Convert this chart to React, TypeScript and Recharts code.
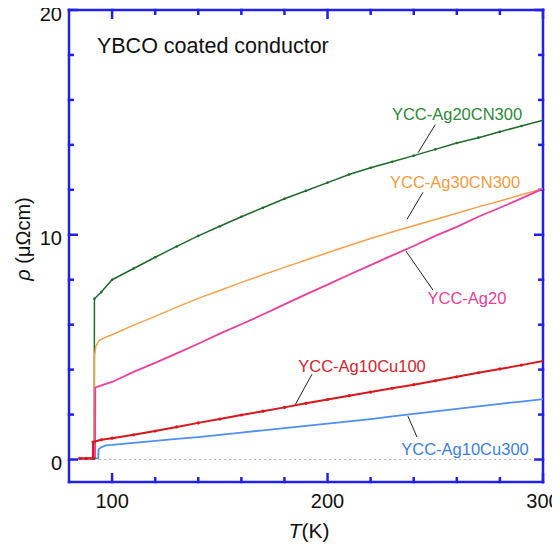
import React from 'react';
import { LineChart, Line, XAxis, YAxis, ReferenceLine, ReferenceDot, Label } from 'recharts';

// Normal-state temperatures (K)
const temps = [100, 110, 120, 130, 140, 150, 160, 170, 180, 190, 200, 210, 220, 230, 240, 250, 260, 270, 280, 290, 300];
// Resistivity (μΩcm) in the normal state
const green = [8.0, 8.5, 9.0, 9.48, 9.95, 10.38, 10.8, 11.2, 11.6, 11.96, 12.32, 12.68, 12.98, 13.25, 13.52, 13.8, 14.08, 14.32, 14.58, 14.84, 15.1];
const orange = [5.55, 5.98, 6.37, 6.78, 7.17, 7.52, 7.88, 8.22, 8.55, 8.88, 9.2, 9.52, 9.83, 10.12, 10.4, 10.68, 10.96, 11.24, 11.5, 11.78, 12.05];
const pink = [3.45, 3.9, 4.3, 4.72, 5.15, 5.6, 6.02, 6.45, 6.9, 7.35, 7.78, 8.22, 8.65, 9.08, 9.5, 9.95, 10.35, 10.8, 11.2, 11.62, 12.05];
const red = [0.95, 1.1, 1.27, 1.45, 1.63, 1.8, 1.98, 2.15, 2.32, 2.5, 2.67, 2.84, 3.0, 3.17, 3.33, 3.5, 3.68, 3.86, 4.03, 4.2, 4.38];
const blue = [0.65, 0.74, 0.83, 0.92, 1.0, 1.1, 1.2, 1.3, 1.4, 1.5, 1.6, 1.7, 1.8, 1.92, 2.03, 2.14, 2.25, 2.36, 2.48, 2.58, 2.69];

// Transition regions
const greenOnsetT = [85, 88, 91.7, 91.8, 95];
const greenOnset = [0.05, 0.05, 0.05, 7.15, 7.45];
const orangeOnsetT = [85, 88, 91.7, 91.8, 92.5, 94, 96];
const orangeOnset = [0.05, 0.05, 0.05, 4.6, 5.05, 5.3, 5.4];
const pinkOnsetT = [85, 88, 92.1, 92.2, 95];
const pinkOnset = [0.05, 0.05, 0.05, 3.2, 3.3];
const redOnsetT = [85, 88, 91.1, 91.2, 95];
const redOnset = [0.05, 0.05, 0.05, 0.78, 0.88];
const blueOnsetT = [85, 88, 93.6, 93.7, 95, 97];
const blueOnset = [0.05, 0.05, 0.05, 0.45, 0.55, 0.63];

const xTicks = [100, 120, 140, 160, 180, 200, 220, 240, 260, 280, 300];
const yTicks = [0, 2, 4, 6, 8, 10, 12, 14, 16, 18, 20];

const X_MIN = 80;
const X_MAX = 300;
const Y_MIN = -1;
const Y_MAX = 20;

const build = (t0: number[], v0: number[], v: number[]) =>
  [...t0.map((T, i) => ({ T, rho: v0[i] })), ...temps.map((T, i) => ({ T, rho: v[i] }))];

const greenData = build(greenOnsetT, greenOnset, green);
const orangeData = build(orangeOnsetT, orangeOnset, orange);
const pinkData = build(pinkOnsetT, pinkOnset, pink);
const redData = build(redOnsetT, redOnset, red);
const blueData = build(blueOnsetT, blueOnset, blue);

const AXIS = '#2020e6';
const FONT = '"Liberation Sans", Arial, Helvetica, sans-serif';
// plot is 474 x 472 px
const PX_PER_Y = 472 / (Y_MAX - Y_MIN);
const PX_PER_X = 474 / (X_MAX - X_MIN);
const MAJOR_LEN = 9;
const MINOR_LEN = 5;
const FRAME_W = 2.5;

const XTick = (props: any) => {
  const { x, y, payload } = props;
  const v = Number(payload.value);
  if (v % 100 !== 0) return <g />;
  return (
    <text x={Number(x)} y={Number(y) + 26} textAnchor="middle" fontSize={20} fill="#111" fontFamily={FONT}>
      {v}
    </text>
  );
};

const YTick = (props: any) => {
  const { x, y, payload } = props;
  const v = Number(payload.value);
  if (v % 10 !== 0) return <g />;
  return (
    <text x={Number(x) - 7} y={Number(y) + 10.5} textAnchor="end" fontSize={20} fill="#111" fontFamily={FONT}>
      {v}
    </text>
  );
};

const XLabel = (props: any) => {
  const vb = props.viewBox;
  return (
    <text x={vb.x + vb.width / 2 + 3} y={vb.y + 56} textAnchor="middle" fontSize={21} fill="#111" fontFamily={FONT}>
      <tspan fontStyle="italic">T</tspan>
      <tspan>(K)</tspan>
    </text>
  );
};

const YLabel = (props: any) => {
  const vb = props.viewBox;
  const cx = vb.x + 15;
  const cy = vb.y + vb.height / 2 - 7;
  return (
    <text
      x={cx}
      y={cy}
      textAnchor="middle"
      dominantBaseline="central"
      fontSize={20}
      fill="#111"
      fontFamily={FONT}
      transform={`rotate(-90 ${cx} ${cy})`}
    >
      <tspan fontStyle="italic">ρ</tspan>
      <tspan> (μΩcm)</tspan>
    </text>
  );
};

const lbl = (value: string, fill: string, fontSize = 16.5, position: any = 'center') => ({
  value,
  position,
  offset: 0,
  fill,
  fontSize,
  fontFamily: FONT,
});

export default function App() {
  const halfY = FRAME_W / 2 / PX_PER_Y;
  const halfX = FRAME_W / 2 / PX_PER_X;
  const segs: { x: number; y: number }[][] = [
    [{ x: X_MIN - halfX, y: Y_MIN }, { x: X_MAX + halfX, y: Y_MIN }],
    [{ x: X_MIN - halfX, y: Y_MAX }, { x: X_MAX + halfX, y: Y_MAX }],
    [{ x: X_MIN, y: Y_MIN - halfY }, { x: X_MIN, y: Y_MAX + halfY }],
    [{ x: X_MAX, y: Y_MIN - halfY }, { x: X_MAX, y: Y_MAX + halfY }],
  ];
  xTicks.forEach((t) => {
    const len = (t % 100 === 0 ? MAJOR_LEN : MINOR_LEN) / PX_PER_Y;
    segs.push([{ x: t, y: Y_MIN - halfY }, { x: t, y: Y_MIN + len }]);
    segs.push([{ x: t, y: Y_MAX + halfY }, { x: t, y: Y_MAX - len }]);
  });
  yTicks.forEach((v) => {
    const len = (v % 10 === 0 ? MAJOR_LEN : MINOR_LEN) / PX_PER_X;
    segs.push([{ x: X_MIN - halfX, y: v }, { x: X_MIN + len, y: v }]);
    segs.push([{ x: X_MAX + halfX, y: v }, { x: X_MAX - len, y: v }]);
  });

  return (
    <div style={{ fontFamily: FONT, marginTop: -8 }}>
      <LineChart width={552} height={547} margin={{ top: 10, right: 17, bottom: 0, left: 0 }}>
        <XAxis
          dataKey="T"
          type="number"
          domain={[X_MIN, X_MAX]}
          allowDataOverflow
          ticks={xTicks}
          interval={0}
          height={65}
          tickSize={0}
          tickMargin={0}
          axisLine={false}
          tickLine={false}
          tick={<XTick />}
        >
          <Label content={<XLabel />} />
        </XAxis>
        <YAxis
          type="number"
          domain={[Y_MIN, Y_MAX]}
          allowDataOverflow
          ticks={yTicks}
          interval={0}
          width={61}
          tickSize={0}
          tickMargin={0}
          axisLine={false}
          tickLine={false}
          tick={<YTick />}
        >
          <Label content={<YLabel />} />
        </YAxis>

        {segs.map((seg, i) => (
          <ReferenceLine key={`ax${i}`} segment={seg} stroke={AXIS} strokeWidth={FRAME_W} ifOverflow="visible" />
        ))}
        <ReferenceLine segment={[{ x: 94, y: 0 }, { x: 296, y: 0 }]} stroke="#b4b4b4" strokeDasharray="2 3" strokeWidth={1.2} />

        {/* leader lines */}
        <ReferenceLine segment={[{ x: 250, y: 14.9 }, { x: 242, y: 13.65 }]} stroke="#222" strokeWidth={1} />
        <ReferenceLine segment={[{ x: 244.3, y: 11.89 }, { x: 236.9, y: 10.69 }]} stroke="#222" strokeWidth={1} />
        <ReferenceLine segment={[{ x: 236.4, y: 9.27 }, { x: 249, y: 7.53 }]} stroke="#222" strokeWidth={1} />
        <ReferenceLine segment={[{ x: 192.8, y: 3.8 }, { x: 184.9, y: 2.42 }]} stroke="#222" strokeWidth={1} />
        <ReferenceLine segment={[{ x: 237.3, y: 1.93 }, { x: 241.5, y: 1.0 }]} stroke="#222" strokeWidth={1} />

        <Line data={blueData} dataKey="rho" stroke="#4f8ff2" strokeWidth={1.8} dot={false} isAnimationActive={false} />
        <Line data={greenData} dataKey="rho" stroke="#1e6b2a" strokeWidth={1.5} dot={{ r: 1.3, fill: '#1e6b2a', stroke: 'none' }} isAnimationActive={false} />
        <Line data={orangeData} dataKey="rho" stroke="#f7a04c" strokeWidth={1.5} dot={false} isAnimationActive={false} />
        <Line data={pinkData} dataKey="rho" stroke="#ea3f9c" strokeWidth={1.8} dot={false} isAnimationActive={false} />
        <Line data={redData} dataKey="rho" stroke="#d9161c" strokeWidth={2} dot={{ r: 1.6, fill: '#d9161c', stroke: 'none' }} isAnimationActive={false} />

        <ReferenceDot x={260.1} y={15.36} r={1} fill="none" stroke="none" label={lbl('YCC-Ag20CN300', '#2a8a35')} />
        <ReferenceDot x={259.2} y={12.33} r={1} fill="none" stroke="none" label={lbl('YCC-Ag30CN300', '#f59a3c')} />
        <ReferenceDot x={264.7} y={7.18} r={1} fill="none" stroke="none" label={lbl('YCC-Ag20', '#e9409e')} />
        <ReferenceDot x={216} y={4.16} r={1} fill="none" stroke="none" label={lbl('YCC-Ag10Cu100', '#d8232a')} />
        <ReferenceDot x={263.8} y={0.47} r={1} fill="none" stroke="none" label={lbl('YCC-Ag10Cu300', '#3a7fe6')} />
        <ReferenceDot x={92.5} y={18.42} r={1} fill="none" stroke="none" label={lbl('YBCO coated conductor', '#111', 21.5, 'right')} />
      </LineChart>
    </div>
  );
}
